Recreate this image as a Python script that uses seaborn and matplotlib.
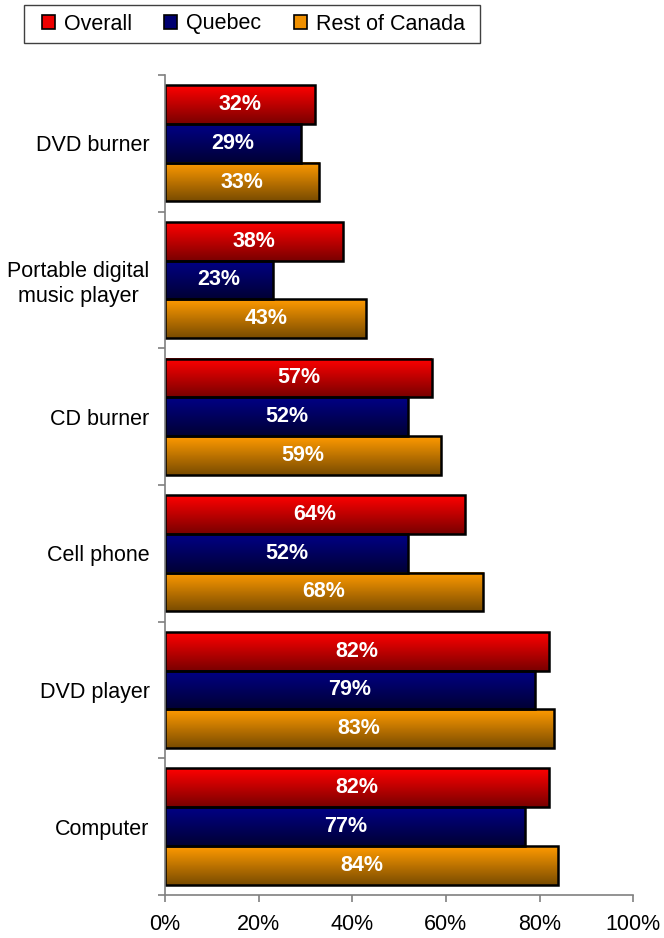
import numpy as np
import pandas as pd
import seaborn as sns
import matplotlib
matplotlib.use("Agg")
from matplotlib import pyplot as plt
from matplotlib.colors import LinearSegmentedColormap
from matplotlib.patches import Patch, Rectangle

# data
items   = ["DVD burner", "Portable digital\nmusic player", "CD burner",
           "Cell phone", "DVD player", "Computer"]
overall = [32, 38, 57, 64, 82, 82]
quebec  = [29, 23, 52, 52, 79, 77]
rest    = [33, 43, 59, 68, 83, 84]
groups  = ["Overall", "Quebec", "Rest of Canada"]
ticks   = [0, 20, 40, 60, 80, 100]

# top colour / bottom colour of each bar's vertical gradient
shades = {"Overall": ("#ff0000", "#7a0000"),
          "Quebec": ("#000085", "#000035"),
          "Rest of Canada": ("#ff9a00", "#7a4c00")}
legend_colors = {"Overall": "#ee0000", "Quebec": "#000070", "Rest of Canada": "#f09000"}

df = pd.DataFrame({
    "item": items * 3,
    "value": overall + quebec + rest,
    "group": np.repeat(groups, len(items)),
})

sns.set_style("white")
plt.rcParams["font.family"] = ["Liberation Sans", "DejaVu Sans"]
plt.rcParams["text.color"] = "black"
plt.rcParams["xtick.labelcolor"] = "black"
plt.rcParams["ytick.labelcolor"] = "black"

W, H = 664, 938
fig = plt.figure(figsize=(W / 100, H / 100), dpi=100)
ax = fig.add_axes([0.2485, 0.046, 0.705, 0.874])

sns.barplot(data=df, y="item", x="value", hue="group", order=items,
            hue_order=groups, palette=legend_colors, width=0.85,
            edgecolor="black", linewidth=1.8, legend=False, ax=ax)

xlim, ylim = (0, 100), (len(items) - 0.5, -0.5)
grad = np.linspace(0, 1, 64).reshape(-1, 1)

for name, cont in zip(groups, ax.containers):
    cmap = LinearSegmentedColormap.from_list(name, list(shades[name]))
    for bar, val in zip(cont, df.loc[df.group == name, "value"]):
        x0, y0 = bar.get_x(), bar.get_y()
        w, h = bar.get_width(), bar.get_height()
        ax.imshow(grad, cmap=cmap, aspect="auto", zorder=1.5,
                  extent=(x0, x0 + w, y0 + h, y0), interpolation="bilinear")
        bar.set_facecolor("none")
        bar.set_zorder(2)
        ax.text(x0 + w / 2, y0 + h / 2, f"{val}%", ha="center", va="center",
                color="white", fontsize=15.5, fontweight="bold", zorder=3)

ax.set_xlim(*xlim)
ax.set_ylim(*ylim)

ax.set_xticks(ticks)
ax.set_xticklabels([f"{t}%" for t in ticks], fontsize=15.5)
ax.set_yticks(range(len(items)))
ax.set_yticklabels(items, fontsize=15.5, multialignment="center")
ax.set_yticks(np.arange(-0.5, len(items)), minor=True)
ax.tick_params(axis="y", which="major", left=False, length=0, pad=11)
ax.tick_params(axis="y", which="minor", left=True, length=5, width=1.2,
               color="#808080", direction="out")
ax.tick_params(axis="x", bottom=True, length=5, width=1.2, color="#808080",
               direction="out", pad=9)
ax.set_xlabel("")
ax.set_ylabel("")

sns.despine(ax=ax)
for s in ("left", "bottom"):
    ax.spines[s].set_color("#808080")
    ax.spines[s].set_linewidth(1.2)

# legend without its own frame; box drawn separately to match the reference
handles = [Patch(facecolor=legend_colors[g], edgecolor="black", linewidth=1.2) for g in groups]
fig.legend(handles, groups, loc="center left", bbox_to_anchor=(42 / W, 1 - 24 / H),
           ncol=3, fontsize=15.5, frameon=False,
           handlelength=0.6, handleheight=0.6, handletextpad=0.42,
           columnspacing=1.5, borderpad=0, borderaxespad=0)
fig.patches.append(Rectangle((24 / W, 1 - 43 / H), 456 / W, 38 / H,
                             transform=fig.transFigure, facecolor="none",
                             edgecolor="#404040", linewidth=1))

fig.savefig("out.png", dpi=100)
